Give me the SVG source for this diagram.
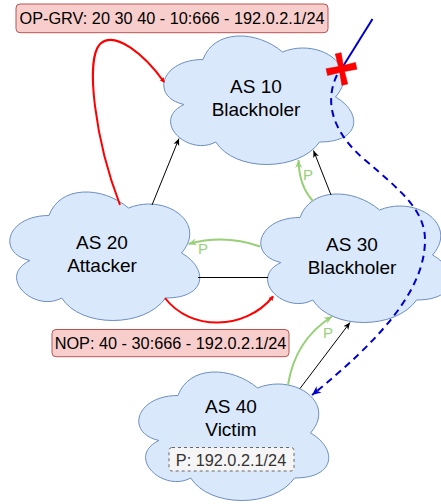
<svg xmlns="http://www.w3.org/2000/svg" width="441" height="504" viewBox="0 0 441 504">
<style>
.cloud{fill:#dae8fc;stroke:#6c8ebf;stroke-width:1}
.t{font-family:"Liberation Sans",Arial,Helvetica,sans-serif;fill:#000;text-anchor:middle}
.as{font-size:19px}
.lbl{font-size:16.3px}
.red{fill:#f8cecc;stroke:#b85450;stroke-width:1}
.blk{fill:none;stroke:#000;stroke-width:1}
.grn{fill:none;stroke:#97d077;stroke-width:2}
.rd{fill:none;stroke:#ff0000;stroke-width:2}
.blu{fill:none;stroke:#0000cc;stroke-width:2}
.pl{font-family:"Liberation Sans",Arial,Helvetica,sans-serif;font-size:15px;fill:#97d077;text-anchor:middle}
</style>
<defs>
<path id="cloud" d="M53,37.5 C10.6,37.5 0,75 33.920,82.5 C0,99 38.16,135 65.72,120 C84.8,150 148.4,150 169.6,120 C212,120 212,90 185.5,75 C212,45 169.6,15 132.5,30 C106,7.5 63.6,7.5 53,37.5 Z"/>
<marker id="aBlk" markerUnits="userSpaceOnUse" markerWidth="8" markerHeight="8" viewBox="0 0 8 8" refX="7" refY="4" orient="auto"><path d="M0,1 L7,4 L0,7 L2,4 Z" fill="#000"/></marker>
<marker id="aGrn" markerUnits="userSpaceOnUse" markerWidth="9" markerHeight="9" viewBox="0 0 9 9" refX="8" refY="4.5" orient="auto"><path d="M0,1 L8,4.5 L0,8 L2.5,4.5 Z" fill="#97d077"/></marker>
<marker id="aBlu" markerUnits="userSpaceOnUse" markerWidth="10" markerHeight="10" viewBox="0 0 10 10" refX="9" refY="5" orient="auto"><path d="M0,1 L9,5 L0,9 L2.5,5 Z" fill="#0000cc"/></marker>
<marker id="aRed" markerUnits="userSpaceOnUse" markerWidth="6" markerHeight="6" viewBox="0 0 6 6" refX="4" refY="3" orient="auto"><path d="M0,0.5 L5,3 L0,5.5 Z" fill="#ff0000"/></marker>
</defs>

<g id="as10"><use href="#cloud" class="cloud" transform="translate(150,22)"/><text class="t as" x="256" y="93">AS 10</text><text class="t as" x="256" y="116">Blackholer</text></g>
<g id="as20"><use href="#cloud" class="cloud" transform="translate(-4,178)"/><text class="t as" x="102" y="249">AS 20</text><text class="t as" x="102" y="272">Attacker</text></g>
<g id="as30"><use href="#cloud" class="cloud" transform="translate(247,180)"/><text class="t as" x="352" y="251">AS 30</text><text class="t as" x="352" y="274">Blackholer</text></g>
<g id="as40"><use href="#cloud" class="cloud" transform="translate(125,358)"/><text class="t as" x="231" y="413">AS 40</text><text class="t as" x="231" y="436">Victim</text>
<rect x="169" y="447.5" width="125" height="23.5" rx="3" fill="#f5f5f5" stroke="#666666" stroke-dasharray="3,3"/>
<text class="t lbl" x="231" y="466" style="fill:#333333">P: 192.0.2.1/24</text></g>

<g id="connectors">
<line class="blk" x1="152" y1="205" x2="179" y2="138.5" marker-end="url(#aBlk)"/>
<line class="blk" x1="331" y1="195" x2="313.5" y2="150.5" marker-end="url(#aBlk)"/>
<line class="blk" x1="198" y1="277.5" x2="268" y2="277.5"/>
<line class="blk" x1="300" y1="388.5" x2="350" y2="322.5" marker-end="url(#aBlk)"/>
<path class="grn" d="M313,201 Q299,186 298.5,160" marker-end="url(#aGrn)"/>
<text class="pl" x="308" y="180">P</text>
<path class="grn" d="M260,246.5 Q225,234 188.5,244" marker-end="url(#aGrn)"/>
<text class="pl" x="203" y="254">P</text>
<path class="grn" d="M288,385 Q295,340 332,316.5" marker-end="url(#aGrn)"/>
<text class="pl" x="328" y="338">P</text>
<path class="rd" d="M165,298 C190,331 245,331 273,296.5" marker-end="url(#aRed)"/>
<path class="rd" d="M120,205 C95,140 85,60 100,44 C115,30 145,55 164,82" marker-end="url(#aRed)"/>
<line class="blu" x1="372.5" y1="19" x2="342" y2="68"/>
<path class="blu" d="M337,75 C325,100 330,130 365,160 C400,190 425,210 425,240 C425,290 380,340 312,395" stroke-dasharray="7,5" marker-end="url(#aBlu)"/>
</g>

<g id="cross" transform="translate(341.5,69) rotate(-12)">
<path d="M-3,-16 L3,-16 L2.5,-3 L15,-3.5 L15,3.5 L2.5,3 L3,16 L-3,16 L-2.5,3 L-15,3.5 L-15,-3.5 L-2.5,-3 Z" fill="#ff0000" stroke="#e00000" stroke-width="0.5"/>
</g>

<g id="label-opgrv"><rect class="red" x="16" y="4" width="312" height="28.7" rx="4"/><text class="t lbl" x="172" y="23.5">OP-GRV: 20 30 40 - 10:666 - 192.0.2.1/24</text></g>
<g id="label-nop"><rect class="red" x="52" y="329.5" width="237" height="27.2" rx="4"/><text class="t lbl" x="170.5" y="349">NOP: 40 - 30:666 - 192.0.2.1/24</text></g>
</svg>
